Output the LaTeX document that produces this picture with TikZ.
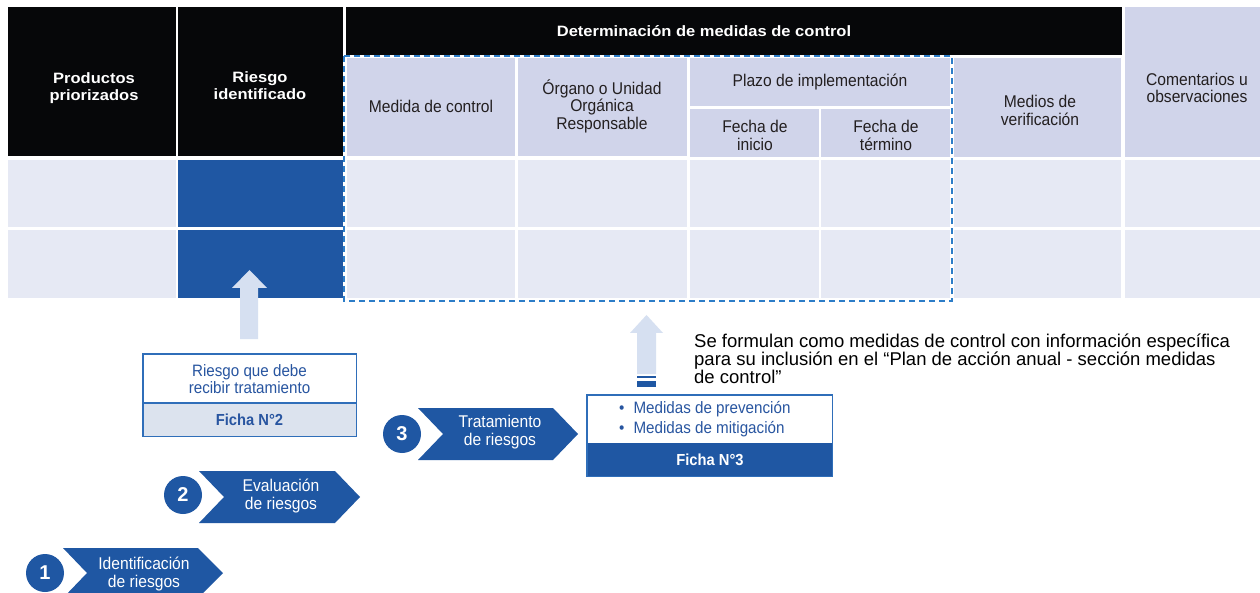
\documentclass[tikz,border=0pt]{standalone}
\usepackage{fontspec}
\setmainfont{Liberation Sans}
\newfontfamily\condf[FakeStretch=0.92]{Liberation Sans}
\newfontfamily\widef[FakeStretch=1.1]{Liberation Sans}
\definecolor{hblack}{RGB}{6,7,9}
\definecolor{hlight}{RGB}{208,212,234}
\definecolor{bodyc}{RGB}{230,233,244}
\definecolor{mainblue}{RGB}{31,87,163}
\definecolor{dashblue}{RGB}{45,125,200}
\definecolor{arrowlight}{RGB}{214,224,241}
\definecolor{fichabg}{RGB}{220,227,238}
\definecolor{fichatext}{RGB}{40,85,160}
\definecolor{fichaborder}{RGB}{47,110,185}
\definecolor{htext}{RGB}{35,31,32}
\tikzset{
  blackhdr/.style={fill=hblack},
  lighthdr/.style={fill=hlight},
  bodycell/.style={fill=bodyc},
  bluecell/.style={fill=mainblue},
  whitehead/.style={text=white, align=center, inner sep=0pt, font=\widef\bfseries\fontsize{15}{17}\selectfont},
  lighthead/.style={text=htext, align=center, inner sep=0pt, font=\condf\fontsize{17}{17.5}\selectfont},
  chevron/.style={fill=mainblue},
  chevtext/.style={text=white, align=center, inner sep=0pt, font=\condf\fontsize{17}{18}\selectfont},
  numcircle/.style={circle, fill=mainblue, minimum size=38pt, inner sep=0pt, text=white, font=\bfseries\fontsize{20}{20}\selectfont},
  boxtext/.style={text=fichatext, align=center, inner sep=0pt, font=\condf\fontsize{16.5}{16.5}\selectfont},
  fichatxt/.style={inner sep=0pt, font=\condf\bfseries\fontsize{16}{16}\selectfont},
  uparrow/.style={fill=arrowlight},
}
\begin{document}
\begin{tikzpicture}[x=1pt,y=-1pt]
\useasboundingbox (0,0) rectangle (1260,593);
\fill[white] (0,0) rectangle (1260,593);

% --- header cells
\fill[blackhdr] (8,7) rectangle (176,156);
\fill[blackhdr] (178,7) rectangle (343,156);
\fill[blackhdr] (346,7) rectangle (1122,55);
\fill[lighthdr] (347,58) rectangle (515,156);
\fill[lighthdr] (518,58) rectangle (687,156);
\fill[lighthdr] (690,58) rectangle (950,106);
\fill[lighthdr] (690,109) rectangle (819,157);
\fill[lighthdr] (821,109) rectangle (950,157);
\fill[lighthdr] (954,58) rectangle (1121,157);
\fill[lighthdr] (1125,7) rectangle (1260,157);

% --- body rows
\foreach \ya/\yb in {160/227,230/298}{
  \fill[bodycell] (8,\ya) rectangle (176,\yb);
  \fill[bluecell] (178,\ya) rectangle (343,\yb);
  \fill[bodycell] (347,\ya) rectangle (515,\yb);
  \fill[bodycell] (518,\ya) rectangle (687,\yb);
  \fill[bodycell] (690,\ya) rectangle (819,\yb);
  \fill[bodycell] (821,\ya) rectangle (950,\yb);
  \fill[bodycell] (954,\ya) rectangle (1121,\yb);
  \fill[bodycell] (1125,\ya) rectangle (1260,\yb);
}

% --- header texts
\node[whitehead] (prodt) at (94,88.5) {Productos\\priorizados};
\node[whitehead] (riesgot) at (260,85.5) {Riesgo\\identificado};
\node[whitehead] (dett) at (704,31) {Determinación de medidas de control};
\node[lighthead] (medt) at (431,106) {Medida de control};
\node[lighthead] (orgt) at (602,106) {Órgano o Unidad\\Orgánica\\Responsable};
\node[lighthead] (plazot) at (820,82) {Plazo de implementación};
\node[lighthead] (iniciot) at (755,135.5) {Fecha de\\inicio};
\node[lighthead] (terminot) at (886,135.5) {Fecha de\\término};
\node[lighthead] (mediost) at (1040,110.5) {Medios de\\verificación};
\node[lighthead] (comentt) at (1197,88) {Comentarios u\\observaciones};

% --- dashed frame
\draw[dashblue, line width=1.8pt, dash pattern=on 6pt off 4pt] (344,56) rectangle (952,301);

% --- up arrow to Riesgo identificado
\fill[uparrow] (240,339) -- (240,288) -- (232,288) -- (249.5,270) -- (267,288) -- (258,288) -- (258,339) -- cycle;

% --- Ficha 2 box
\node[fill=white, minimum width=213pt, minimum height=49pt, inner sep=0pt, anchor=north west] (f2top) at (143,354) {};
\node[fill=fichabg, minimum width=213pt, minimum height=33pt, inner sep=0pt, anchor=north west] (f2bot) at (143,403) {};
\draw[fichaborder, line width=1.8pt] (f2top.north west) rectangle (f2bot.south east);
\draw[fichaborder, line width=1.8pt] (f2bot.north west) -- (f2bot.north east);
\node[boxtext] (f2txt) at (249.5,379) {Riesgo que debe\\recibir tratamiento};
\node[fichatxt, text=fichatext] (f2lab) at (249.5,419.5) {Ficha N°2};

% --- up arrow to table from Ficha 3
\fill[uparrow] (637,374) -- (637,333) -- (630,333) -- (646.5,315) -- (663,333) -- (656,333) -- (656,374) -- cycle;
\fill[mainblue] (637,376) rectangle (656,378);
\fill[mainblue] (637,381) rectangle (656,387);

% --- Ficha 3 box
\node[fill=white, minimum width=245pt, minimum height=48pt, inner sep=0pt, anchor=north west] (f3top) at (587,395) {};
\node[fill=mainblue, minimum width=245pt, minimum height=33pt, inner sep=0pt, anchor=north west] (f3bot) at (587,443) {};
\draw[fichaborder, line width=1.8pt] (f3top.north west) rectangle (f3bot.south east);
\node[boxtext, align=left, anchor=west] (f3txt) at (619,419) {•\hspace{9pt}Medidas de prevención\\[3pt]•\hspace{9pt}Medidas de mitigación};
\node[fichatxt, text=white] (f3lab) at (710,459.5) {Ficha N°3};

% --- note text
\node[anchor=north west, align=left, inner sep=0pt, text=black, font=\fontsize{18.5}{18}\selectfont] (note) at (694,334) {Se formulan como medidas de control con información específica\\para su inclusión en el “Plan de acción anual - sección medidas\\de control”};

% --- chevrons
\fill[chevron] (418,408) -- (553,408) -- (578,434) -- (553,460) -- (418,460) -- (443,434) -- cycle;
\node[chevtext] (ch3) at (500,432.5) {Tratamiento\\de riesgos};
\node[numcircle] (n3) at (402,434) {3};

\fill[chevron] (199,471) -- (335,471) -- (360,497) -- (335,523) -- (199,523) -- (224,497) -- cycle;
\node[chevtext] (ch2) at (281,496.5) {Evaluación\\de riesgos};
\node[numcircle] (n2) at (183,495) {2};

\fill[chevron] (63,548) -- (198,548) -- (223,573) -- (198,598) -- (63,598) -- (87,573) -- cycle;
\node[chevtext] (ch1) at (144,574.5) {Identificación\\de riesgos};
\node[numcircle] (n1) at (45,573) {1};
\end{tikzpicture}
\end{document}
